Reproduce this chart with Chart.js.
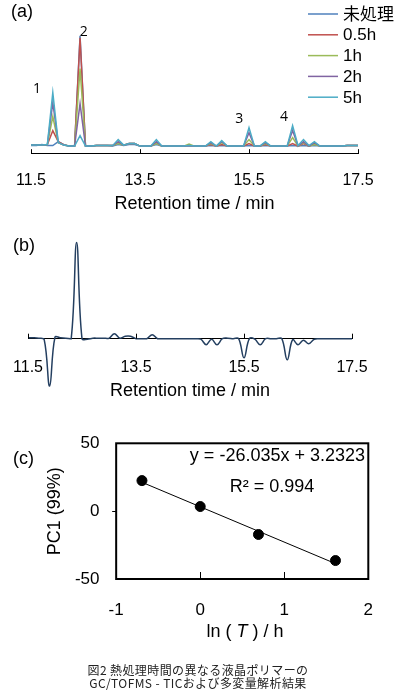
<!DOCTYPE html>
<html>
<head>
<meta charset="utf-8">
<script src="https://cdn.jsdelivr.net/npm/chart.js@4.4.0/dist/chart.umd.min.js"></script>
<style>
  html, body { margin: 0; padding: 0; background: #fff; width: 396px; height: 690px; overflow: hidden; }
  body { position: relative; }
  canvas { position: absolute; left: 0; }
  #caption {
    position: absolute; left: 0; top: 663px; width: 396px;
    text-align: center; color: #222; letter-spacing: 0.4px;
    font: 12px "Noto Sans CJK JP", sans-serif; line-height: 13.3px;
  }
</style>
</head>
<body>
<canvas id="chartA" width="396" height="218" style="top:0px"></canvas>
<canvas id="chartB" width="396" height="189" style="top:216px"></canvas>
<canvas id="chartC" width="396" height="230" style="top:420px"></canvas>
<div id="caption">図2 熱処理時間の異なる液晶ポリマーの<br>GC/TOFMS - TICおよび多変量解析結果</div>

<script>
// ---- data -------------------------------------------------------------
// retention time axis, 0.1 min steps (11.5 .. 17.5)
const retentionTimes = [
  11.5, 11.6, 11.7, 11.8, 11.9, 12.0, 12.1, 12.2, 12.3, 12.4,
  12.5, 12.6, 12.7, 12.8, 12.9, 13.0, 13.1, 13.2, 13.3, 13.4,
  13.5, 13.6, 13.7, 13.8, 13.9, 14.0, 14.1, 14.2, 14.3, 14.4,
  14.5, 14.6, 14.7, 14.8, 14.9, 15.0, 15.1, 15.2, 15.3, 15.4,
  15.5, 15.6, 15.7, 15.8, 15.9, 16.0, 16.1, 16.2, 16.3, 16.4,
  16.5, 16.6, 16.7, 16.8, 16.9, 17.0, 17.1, 17.2, 17.3, 17.4,
  17.5
];
const rtTicks = [11.5, 13.5, 15.5, 17.5];

// (a) TIC for each heat treatment time
const ticLabels = ["未処理", "0.5h", "1h", "2h", "5h"];
const ticColors = ["#4F81BD", "#C0504D", "#9BBB59", "#8064A2", "#4BACC6"];
const ticUntreated = [
  1, 1, 2, 1, 1, 5, 2, 0.5, 0.5, 111,
  0.5, 0.5, 1, 1, 1, 0.5, 2, 1, 2, 2,
  0.5, 0.5, 0.5, 2, 0.5, 0.5, 0.5, 0.5, 0.5, 1,
  0.5, 0.5, 0.5, 1, 0.5, 1, 0.5, 0.5, 0.5, 0.5,
  1, 0.5, 0.5, 1, 0.5, 0.5, 0.5, 0.5, 1, 0.5,
  1, 0.5, 1, 0.5, 0.5, 0.5, 0.5, 0.5, 1, 1,
  1
];
const tic05h = [
  1.5, 1.5, 1.5, 2, 16, 5, 2, 0.5, 0.5, 109,
  0.5, 0.5, 1, 1, 1, 1, 4, 1.5, 3, 3,
  0.5, 0.5, 0.5, 4, 0.5, 0.5, 0.5, 0.5, 0.5, 1,
  0.5, 0.5, 0.5, 2, 0.5, 2, 0.5, 0.5, 0.5, 0.5,
  3, 0.5, 0.5, 2, 0.5, 0.5, 0.5, 0.5, 3, 0.5,
  3, 0.5, 3, 0.5, 0.5, 0.5, 0.5, 0.5, 1, 1,
  1
];
const tic1h = [
  1.5, 1.5, 1.5, 2, 30, 4, 1.5, 0.5, 0.5, 78,
  0.5, 0.5, 1, 1, 1, 1, 3, 1.5, 3, 3,
  0.5, 0.5, 0.5, 3, 0.5, 0.5, 0.5, 0.5, 0.5, 2.5,
  0.5, 0.5, 0.5, 3, 0.5, 4, 0.5, 0.5, 0.5, 0.5,
  7, 0.5, 0.5, 3, 0.5, 0.5, 0.5, 0.5, 9, 0.5,
  4, 0.5, 2, 0.5, 0.5, 0.5, 0.5, 0.5, 1, 1,
  1
];
const tic2h = [
  1.5, 1.5, 1.5, 2, 44, 4, 1.5, 0.5, 0.5, 43,
  0.5, 0.5, 1, 1, 1, 1, 5, 1.5, 3, 3,
  0.5, 0.5, 0.5, 5, 0.5, 0.5, 0.5, 0.5, 0.5, 1,
  0.5, 0.5, 0.5, 4, 0.5, 5, 0.5, 0.5, 0.5, 0.5,
  14, 0.5, 0.5, 4, 0.5, 0.5, 0.5, 0.5, 16, 0.5,
  5, 0.5, 4, 0.5, 0.5, 0.5, 0.5, 0.5, 1, 1,
  1
];
const tic5h = [
  1.5, 1.5, 1.5, 2, 54, 4, 1.5, 0.5, 0.5, 11,
  0.5, 0.5, 1, 1, 1, 1, 7, 1.5, 3, 3,
  0.5, 0.5, 0.5, 7, 0.5, 0.5, 0.5, 0.5, 0.5, 1,
  0.5, 0.5, 0.5, 5, 0.5, 6, 0.5, 0.5, 0.5, 0.5,
  19, 0.5, 0.5, 5, 0.5, 0.5, 0.5, 0.5, 21, 1,
  7, 1, 5, 0.5, 0.5, 0.5, 0.5, 0.5, 1, 1,
  1
];
const peakNames = ["1", "2", "3", "4"];
const peakRt = [11.61, 12.47, 15.32, 16.14];
const peakTextLevel = [58, 115, 28, 30];

// (b) PC1 loading
const pc1Loading = [
  1, 1, 0.5, -1, -47, 1.5, 1, 0.5, 0, 95.5,
  0, -0.5, 0.5, 0.5, 0.5, 0.5, 5, 0.5, 2.5, 2.5,
  0, 0, 0, 4, 0, 0, 0, 0, 0, 0,
  0, 0, -0.5, -6, -0.5, -6, 0, 0.5, 0, 0,
  -19, 0, -0.5, -6, 0, 0, 0, 0, -21, -1,
  -6, -1.5, -5, -0.5, 0, 0, 0, 0, 0, 0,
  0
];

// (c) PC1 score vs ln(treatment time)
const treatHours = [0.5, 1, 2, 5];
const pc1Scores = [22.5, 3.4, -17.2, -36.4];
const fitSlope = -26.035;
const fitIntercept = 3.2323;
const fitR2 = 0.994;

// ---- common -------------------------------------------------------------
const sansFont = '"Liberation Sans", Arial, "Noto Sans CJK JP", sans-serif';
Chart.defaults.font.family = sansFont;
Chart.defaults.color = "#000";

function toPoints(xs, ys) {
  return xs.map((x, i) => ({ x: x, y: ys[i] }));
}

function drawInnerTicks(ctx, scale, bottom, len) {
  ctx.strokeStyle = "#000";
  ctx.lineWidth = 1;
  scale.ticks.forEach((t) => {
    const px = Math.round(scale.getPixelForValue(t.value)) + 0.5;
    ctx.beginPath();
    ctx.moveTo(px, bottom);
    ctx.lineTo(px, bottom - len);
    ctx.stroke();
  });
}

const commonOptions = {
  responsive: false,
  animation: false,
  devicePixelRatio: 1,
  events: [],
};

// ---- (a) ------------------------------------------------------------------
const panelAPlugin = {
  id: "panelA",
  afterDatasetsDraw(chart) {
    const { ctx, chartArea, scales: { x, y } } = chart;
    ctx.save();
    drawInnerTicks(ctx, x, chartArea.bottom, 4);

    // peak numbers
    ctx.fillStyle = "#000";
    ctx.font = '14px "Open Sans", sans-serif';
    ctx.textAlign = "center";
    ctx.textBaseline = "middle";
    peakNames.forEach((name, i) => {
      ctx.fillText(name, x.getPixelForValue(peakRt[i]), y.getPixelForValue(peakTextLevel[i]));
    });

    // legend
    ctx.font = "17px " + sansFont;
    ctx.textAlign = "left";
    ticLabels.forEach((label, i) => {
      const ly = 14 + i * 20.8;
      ctx.strokeStyle = ticColors[i];
      ctx.lineWidth = 1.5;
      ctx.beginPath();
      ctx.moveTo(308, ly);
      ctx.lineTo(338, ly);
      ctx.stroke();
      ctx.fillText(label, 343, ly + 1);
    });

    // panel tag
    ctx.font = "18px " + sansFont;
    ctx.fillText("(a)", 11, 12);
    ctx.restore();
  },
};

const ticSeries = [ticUntreated, tic05h, tic1h, tic2h, tic5h];

new Chart(document.getElementById("chartA"), {
  type: "line",
  data: {
    datasets: ticSeries.map((vals, i) => ({
      label: ticLabels[i],
      data: toPoints(retentionTimes, vals),
      borderColor: ticColors[i],
      borderWidth: 1.5,
      pointRadius: 0,
      tension: 0,
      order: ticSeries.length - i,
    })),
  },
  options: {
    ...commonOptions,
    layout: { padding: { left: 31, right: 38, top: 20, bottom: 0 } },
    plugins: { legend: { display: false }, tooltip: { enabled: false } },
    scales: {
      x: {
        type: "linear",
        min: rtTicks[0],
        max: rtTicks[rtTicks.length - 1],
        afterBuildTicks: (s) => { s.ticks = rtTicks.map((v) => ({ value: v })); },
        ticks: { padding: 2, font: { size: 16 }, callback: (v) => v.toFixed(1) },
        grid: { display: true, drawOnChartArea: false, tickLength: 16, tickColor: "rgba(0,0,0,0)" },
        border: { display: true, color: "#000", width: 1 },
        title: { display: true, text: "Retention time / min", font: { size: 18 }, padding: { top: 1, bottom: 3 } },
      },
      y: { display: false, min: -6.6, max: 126.7 },
    },
  },
  plugins: [panelAPlugin],
});

// ---- (b) ------------------------------------------------------------------
const panelBPlugin = {
  id: "panelB",
  afterDatasetsDraw(chart) {
    const { ctx, chartArea, scales: { x } } = chart;
    ctx.save();
    drawInnerTicks(ctx, x, chartArea.bottom, 5);
    ctx.fillStyle = "#000";
    ctx.font = "18px " + sansFont;
    ctx.textAlign = "left";
    ctx.textBaseline = "middle";
    ctx.fillText("(b)", 13, 30);
    ctx.restore();
  },
};

new Chart(document.getElementById("chartB"), {
  type: "line",
  data: {
    datasets: [{
      label: "PC1",
      data: toPoints(retentionTimes, pc1Loading),
      borderColor: "#243F60",
      borderWidth: 1.5,
      pointRadius: 0,
      tension: 0.4,
      clip: false,
    }],
  },
  options: {
    ...commonOptions,
    layout: { padding: { left: 28, right: 44, top: 20, bottom: 0 } },
    plugins: { legend: { display: false }, tooltip: { enabled: false } },
    scales: {
      x: {
        type: "linear",
        min: rtTicks[0],
        max: rtTicks[rtTicks.length - 1],
        afterBuildTicks: (s) => { s.ticks = rtTicks.map((v) => ({ value: v })); },
        ticks: { padding: 2, font: { size: 16 }, callback: (v) => v.toFixed(1) },
        grid: { display: true, drawOnChartArea: false, tickLength: 17.5, tickColor: "rgba(0,0,0,0)" },
        border: { display: true, color: "#000", width: 1 },
        title: { display: true, text: "Retention time / min", font: { size: 18 }, padding: { top: 1, bottom: 3 } },
      },
      y: { display: false, min: 0, max: 102 },
    },
  },
  plugins: [panelBPlugin],
});

// ---- (c) ------------------------------------------------------------------
const lnHours = treatHours.map((h) => Math.log(h));
const fitXs = [lnHours[0], lnHours[lnHours.length - 1]];
const fitYs = fitXs.map((v) => fitSlope * v + fitIntercept);

const panelCPlugin = {
  id: "panelC",
  afterDraw(chart) {
    const { ctx, chartArea: a, scales: { x, y } } = chart;
    ctx.save();
    // frame
    ctx.strokeStyle = "#000";
    ctx.lineWidth = 2;
    ctx.strokeRect(a.left, a.top, a.right - a.left, a.bottom - a.top);

    // inside x ticks / outside y ticks (interior ones only)
    ctx.lineWidth = 1;
    x.ticks.forEach((t) => {
      if (t.value <= x.min || t.value >= x.max) return;
      const px = Math.round(x.getPixelForValue(t.value)) + 0.5;
      ctx.beginPath();
      ctx.moveTo(px, a.bottom);
      ctx.lineTo(px, a.bottom - 7);
      ctx.stroke();
    });
    y.ticks.forEach((t) => {
      if (t.value <= y.min || t.value >= y.max) return;
      const py = Math.round(y.getPixelForValue(t.value)) + 0.5;
      ctx.beginPath();
      ctx.moveTo(a.left - 4, py);
      ctx.lineTo(a.left, py);
      ctx.stroke();
    });

    ctx.fillStyle = "#000";
    ctx.textBaseline = "middle";

    // regression text
    ctx.font = "18px " + sansFont;
    ctx.textAlign = "right";
    const sign = fitIntercept < 0 ? " - " : " + ";
    ctx.fillText("y = " + fitSlope.toFixed(3) + "x" + sign + Math.abs(fitIntercept).toFixed(4), 365, 36);
    ctx.textAlign = "center";
    ctx.fillText("R\u00B2 = " + fitR2.toFixed(3), 272, 67);

    // x-axis title with italic T
    const parts = [
      { t: "ln ( ", f: "18px " + sansFont },
      { t: "T", f: "italic 18px " + sansFont },
      { t: " ) / h", f: "18px " + sansFont },
    ];
    let total = 0;
    parts.forEach((p) => { ctx.font = p.f; p.w = ctx.measureText(p.t).width; total += p.w; });
    let cx = 245 - total / 2;
    ctx.textAlign = "left";
    parts.forEach((p) => { ctx.font = p.f; ctx.fillText(p.t, cx, 212); cx += p.w; });

    // panel tag
    ctx.font = "18px " + sansFont;
    ctx.fillText("(c)", 13, 39);
    ctx.restore();
  },
};

new Chart(document.getElementById("chartC"), {
  type: "scatter",
  data: {
    datasets: [
      {
        label: "PC1",
        data: toPoints(lnHours, pc1Scores),
        pointRadius: 5,
        pointBackgroundColor: "#000",
        pointBorderColor: "#000",
        showLine: false,
        order: 0,
      },
      {
        type: "line",
        label: "fit",
        data: toPoints(fitXs, fitYs),
        borderColor: "#000",
        borderWidth: 1,
        pointRadius: 0,
        order: 1,
      },
    ],
  },
  options: {
    ...commonOptions,
    layout: { padding: { left: 44, right: 27.7, top: 23.3, bottom: 27.8 } },
    plugins: { legend: { display: false }, tooltip: { enabled: false } },
    scales: {
      x: {
        type: "linear",
        min: -1,
        max: 2,
        ticks: { stepSize: 1, padding: 2, font: { size: 17 } },
        grid: { display: true, drawOnChartArea: false, tickLength: 18.8, tickColor: "rgba(0,0,0,0)" },
        border: { display: false },
      },
      y: {
        min: -50,
        max: 50,
        ticks: { stepSize: 50, padding: 2, font: { size: 17 } },
        grid: { display: true, drawOnChartArea: false, tickLength: 14.7, tickColor: "rgba(0,0,0,0)" },
        border: { display: false },
        title: { display: true, text: "PC1 (99%)", font: { size: 18 }, padding: { top: 0, bottom: 7.3 } },
      },
    },
  },
  plugins: [panelCPlugin],
});
</script>
</body>
</html>
